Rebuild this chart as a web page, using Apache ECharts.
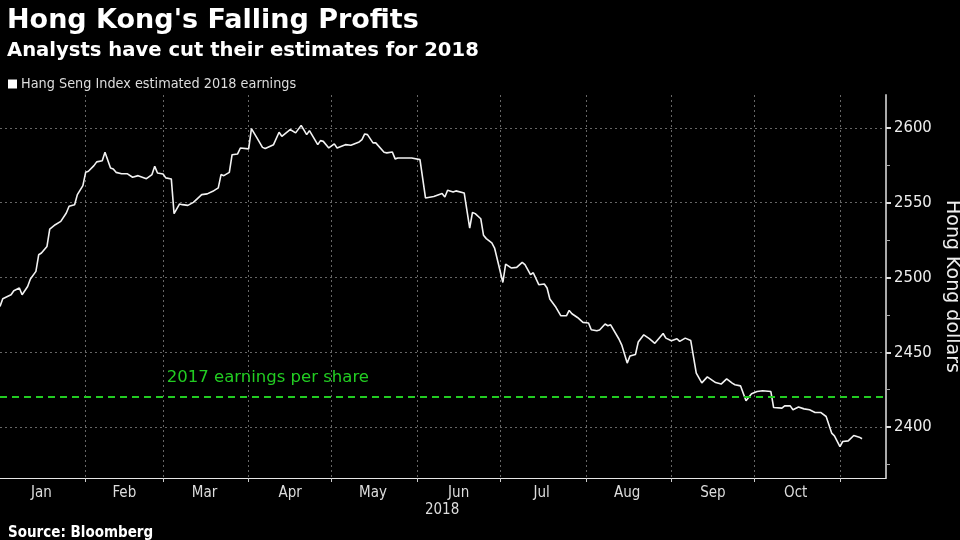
<!DOCTYPE html>
<html>
<head>
<meta charset="utf-8">
<script src="https://cdn.jsdelivr.net/npm/echarts@6/dist/echarts.min.js"></script>
<style>
html,body{margin:0;padding:0;background:#000;}
#chart{width:960px;height:540px;}
</style>
</head>
<body>
<div id="chart"></div>
<script>
// Hang Seng Index estimated 2018 earnings (HK$)
const dates = [
'2018-01-01','2018-01-02','2018-01-05','2018-01-06','2018-01-08','2018-01-09','2018-01-11','2018-01-12','2018-01-14','2018-01-15',
'2018-01-16','2018-01-18','2018-01-19','2018-01-21','2018-01-23','2018-01-25','2018-01-26','2018-01-28','2018-01-29','2018-01-31',
'2018-02-01','2018-02-02','2018-02-04','2018-02-05','2018-02-07','2018-02-08','2018-02-10','2018-02-11','2018-02-12','2018-02-14',
'2018-02-16','2018-02-18','2018-02-20','2018-02-23','2018-02-25','2018-02-26','2018-02-27','2018-03-01','2018-03-02','2018-03-04',
'2018-03-05','2018-03-07','2018-03-08','2018-03-10','2018-03-12','2018-03-15','2018-03-17','2018-03-19','2018-03-21','2018-03-22',
'2018-03-23','2018-03-25','2018-03-26','2018-03-28','2018-03-29','2018-04-01','2018-04-02','2018-04-04','2018-04-06','2018-04-07',
'2018-04-10','2018-04-12','2018-04-13','2018-04-16','2018-04-18','2018-04-20','2018-04-22','2018-04-23','2018-04-26','2018-04-27',
'2018-04-28','2018-04-30','2018-05-02','2018-05-03','2018-05-06','2018-05-08','2018-05-11','2018-05-12','2018-05-13','2018-05-14',
'2018-05-16','2018-05-17','2018-05-20','2018-05-21','2018-05-23','2018-05-24','2018-05-25','2018-05-30','2018-06-02','2018-06-04',
'2018-06-07','2018-06-10','2018-06-11','2018-06-12','2018-06-14','2018-06-15','2018-06-18','2018-06-20','2018-06-21','2018-06-22',
'2018-06-24','2018-06-25','2018-06-26','2018-06-28','2018-06-29','2018-07-02','2018-07-03','2018-07-05','2018-07-07','2018-07-09',
'2018-07-10','2018-07-12','2018-07-13','2018-07-15','2018-07-17','2018-07-18','2018-07-19','2018-07-21','2018-07-23','2018-07-25',
'2018-07-26','2018-07-27','2018-07-29','2018-07-31','2018-08-02','2018-08-03','2018-08-05','2018-08-06','2018-08-08','2018-08-09',
'2018-08-10','2018-08-13','2018-08-14','2018-08-16','2018-08-17','2018-08-19','2018-08-20','2018-08-22','2018-08-24','2018-08-26',
'2018-08-29','2018-08-30','2018-09-01','2018-09-03','2018-09-04','2018-09-06','2018-09-08','2018-09-10','2018-09-12','2018-09-14',
'2018-09-17','2018-09-19','2018-09-21','2018-09-23','2018-09-24','2018-09-26','2018-09-28','2018-09-30','2018-10-02','2018-10-04',
'2018-10-07','2018-10-08','2018-10-11','2018-10-12','2018-10-14','2018-10-15','2018-10-17','2018-10-19','2018-10-21','2018-10-23',
'2018-10-25','2018-10-27','2018-10-29','2018-10-30','2018-11-01','2018-11-02','2018-11-04','2018-11-06','2018-11-08','2018-11-09'
];
const earnings = [
2480.7,2485.8,2488.5,2491.2,2493.0,2488.5,2494.0,2499.0,2504.1,2515.2,
2516.4,2520.8,2532.4,2535.3,2537.5,2543.1,2547.6,2548.7,2555.4,2561.4,
2570.3,2571.0,2574.8,2577.3,2578.1,2583.7,2573.2,2572.6,2570.3,2569.4,
2569.4,2567.0,2568.1,2566.1,2568.8,2574.3,2569.9,2569.2,2566.6,2565.9,
2542.7,2549.2,2548.7,2548.2,2550.2,2555.4,2555.9,2557.6,2559.9,2568.8,
2568.1,2570.3,2582.1,2582.6,2586.6,2586.0,2599.5,2593.3,2587.0,2586.2,
2588.8,2597.1,2594.4,2598.9,2596.7,2601.7,2595.5,2598.2,2588.8,2591.5,
2591.0,2586.6,2589.3,2586.6,2588.8,2588.4,2590.6,2592.2,2596.0,2595.5,
2590.0,2590.0,2583.7,2583.3,2583.9,2579.3,2579.9,2579.9,2578.8,2553.2,
2554.2,2556.1,2553.8,2558.3,2557.2,2557.9,2556.5,2533.1,2543.5,2542.7,
2539.3,2528.2,2526.0,2523.1,2519.7,2496.7,2509.0,2506.4,2506.8,2510.1,
2508.6,2501.9,2503.2,2495.2,2495.7,2493.0,2485.6,2480.7,2474.4,2474.4,
2478.0,2475.8,2473.3,2470.0,2469.6,2465.1,2464.4,2464.9,2468.9,2467.8,
2468.4,2458.9,2455.0,2442.8,2447.5,2448.6,2456.9,2461.7,2459.2,2456.0,
2462.6,2459.5,2457.7,2459.1,2457.3,2459.5,2457.9,2436.1,2429.6,2433.6,
2429.8,2428.8,2432.3,2429.4,2428.3,2427.6,2417.6,2422.3,2423.8,2424.3,
2423.8,2413.1,2412.7,2414.2,2414.2,2411.6,2413.4,2412.2,2411.6,2409.8,
2409.8,2407.1,2396.0,2394.2,2387.0,2390.4,2390.8,2394.4,2393.3,2392.2
];
const eps2017 = 2420;
const eps2017Label = '2017 earnings per share';
const eps2017LabelDate = '2018-03-02';
const yLabelTicks = [2400, 2450, 2500, 2550, 2600];
const monthStarts = ['2018-02-01','2018-03-01','2018-04-01','2018-05-01','2018-06-01','2018-07-01','2018-08-01','2018-09-01','2018-10-01','2018-11-01'];
const monthMids = ['2018-01-16','2018-02-15','2018-03-16','2018-04-16','2018-05-16','2018-06-16','2018-07-16','2018-08-16','2018-09-16','2018-10-16'];
const monthNames = ['Jan','Feb','Mar','Apr','May','Jun','Jul','Aug','Sep','Oct'];
const yearLabel = '2018';
const yearLabelDate = '2018-06-10';
const xMin = '2018-01-01T00:00:00Z';
const xMax = '2018-11-17T16:00:00Z';
const yMin = 2366, yMax = 2622;

const toTs = s => Date.parse(s.length === 10 ? s + 'T00:00:00Z' : s);
const seriesData = dates.map((d, i) => [toTs(d), earnings[i]]);
const midTs = monthMids.map(toTs);
const startTs = monthStarts.map(toTs);

const chart = echarts.init(document.getElementById('chart'), null, {renderer: 'canvas'});
const font = 'DejaVu Sans';
const cond = 'DejaVu Sans Condensed';
chart.setOption({
  backgroundColor: '#000',
  animation: false,
  title: [
    {text: "Hong Kong's Falling Profits", left: 2, top: 2,
     textStyle: {color: '#fff', fontFamily: font, fontWeight: 'bold', fontSize: 27}},
    {text: 'Analysts have cut their estimates for 2018', left: 2, top: 36,
     textStyle: {color: '#fff', fontFamily: font, fontWeight: 'bold', fontSize: 19.6}},
    {text: 'Source: Bloomberg', left: 3, top: 521,
     textStyle: {color: '#fff', fontFamily: cond, fontWeight: 'bold', fontSize: 15}}
  ],
  legend: {
    show: true, left: 3, top: 72, itemWidth: 9, itemHeight: 9, itemGap: 4,
    icon: 'rect',
    textStyle: {color: '#ddd', fontFamily: cond, fontSize: 14.3, padding: [0, 0, 0, -1]},
    data: ['Hang Seng Index estimated 2018 earnings']
  },
  grid: {left: 0, right: 74, top: 95, bottom: 62, containLabel: false, outerBoundsMode: 'none'},
  xAxis: [
    {
      type: 'value', min: toTs(xMin), max: toTs(xMax),
      axisLine: {show: true, lineStyle: {color: '#e6e6e6', width: 1}},
      axisTick: {show: true, length: 4, customValues: startTs, lineStyle: {color: '#ccc'}},
      axisLabel: {show: false, customValues: startTs},
      splitLine: {show: true, lineStyle: {color: '#666', type: [2, 3], width: 1}}
    },
    {
      type: 'value', min: toTs(xMin), max: toTs(xMax), position: 'bottom', gridIndex: 0,
      axisLine: {show: false}, axisTick: {show: false}, splitLine: {show: false},
      axisLabel: {
        show: true, customValues: midTs, color: '#ddd', fontFamily: cond, fontSize: 15, margin: 8,
        formatter: v => { const i = midTs.indexOf(v); return i >= 0 ? monthNames[i] : ''; }
      }
    }
  ],
  yAxis: {
    type: 'value', position: 'right', min: yMin, max: yMax, splitNumber: 5,
    name: 'Hong Kong dollars', nameLocation: 'middle', nameGap: 50, nameRotate: -90,
    nameTextStyle: {color: '#eee', fontFamily: font, fontSize: 19},
    axisLine: {show: true, lineStyle: {color: '#aaa', width: 2}},
    axisTick: {show: true, length: 5, inside: false, customValues: yLabelTicks, lineStyle: {color: '#ddd', width: 2}},
    minorTick: {show: true, splitNumber: 2, length: 4, lineStyle: {color: '#aaa', width: 1}},
    axisLabel: {show: true, customValues: yLabelTicks, color: '#eee', fontFamily: cond, fontSize: 16.5, margin: 8,
      formatter: v => String(v)},
    splitLine: {show: true, lineStyle: {color: '#666', type: [2, 3], width: 1}}
  },
  series: [
    {
      name: 'Hang Seng Index estimated 2018 earnings',
      type: 'line', data: seriesData, showSymbol: false, symbol: 'none',
      itemStyle: {color: '#fff'},
      lineStyle: {color: '#f2f2f2', width: 1.6},
      markLine: {
        silent: true, symbol: 'none',
        lineStyle: {color: '#22cc22', type: [7, 5], width: 2},
        label: {show: false},
        data: [{yAxis: eps2017}]
      }
    }
  ]
});
const p = chart.convertToPixel({xAxisIndex: 0, yAxisIndex: 0}, [toTs(eps2017LabelDate), eps2017]);
const pm = chart.convertToPixel({xAxisIndex: 0}, toTs(yearLabelDate));
chart.setOption({graphic: [
  {type: 'text', x: pm, y: 503, style: {text: yearLabel, fill: '#ddd', font: '15px "DejaVu Sans Condensed"', textAlign: 'center'}},
  {type: 'text', x: p[0] + 1, y: p[1] - 11, style: {text: eps2017Label, fill: '#22cc22', font: '16.5px "DejaVu Sans"', textVerticalAlign: 'bottom'}}
]});
</script>
</body>
</html>
